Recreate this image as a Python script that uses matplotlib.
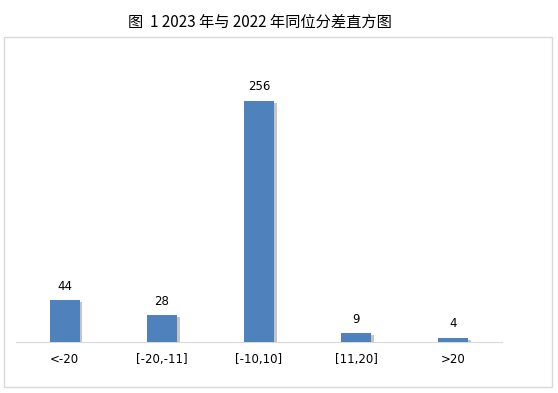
import matplotlib.pyplot as plt
import matplotlib.patheffects as pe
from matplotlib.patches import Rectangle

plt.rcParams['font.family'] = ['Noto Sans CJK SC', 'DejaVu Sans']

categories = ["<-20", "[-20,-11]", "[-10,10]", "[11,20]", ">20"]
counts = [44, 28, 256, 9, 4]

BAR_COLOR = "#4F81BD"

fig = plt.figure(figsize=(5.58, 3.93), dpi=100)

# outer border like the Excel chart area
fig.patches.append(Rectangle((4 / 558, 6 / 393), 548 / 558, 350 / 393,
                             transform=fig.transFigure, fill=False,
                             edgecolor="#D9D9D9", linewidth=1))

fig.text(260 / 558, 1 - 22 / 393, "图  1 2023 年与 2022 年同位分差直方图",
         ha="center", va="center", fontsize=11, color="#000000")

ax = fig.add_axes([16 / 558, 0.1305, 486 / 558, 0.7184])
x = range(len(categories))
bars = ax.bar(x, counts, width=0.31, color=BAR_COLOR, zorder=3)
for b in bars:
    b.set_path_effects([pe.SimplePatchShadow(offset=(2, -1.5), shadow_rgbFace="#7F7F7F", alpha=0.45),
                        pe.Normal()])

for xi, v in zip(x, counts):
    ax.text(xi, v + 8, str(v), ha="center", va="bottom",
            fontsize=8.5, family="DejaVu Sans", color="#000000")

ax.set_xlim(-0.5, len(categories) - 0.5)
ax.set_ylim(0, 300)
ax.set_xticks(list(x))
ax.set_xticklabels(categories, fontsize=8.5, family="DejaVu Sans")
ax.tick_params(axis="x", length=0, pad=8)
ax.set_yticks([])
for s in ["top", "right", "left"]:
    ax.spines[s].set_visible(False)
ax.spines["bottom"].set_color("#D9D9D9")
ax.patch.set_alpha(0)

fig.savefig("out.png", dpi=100)
